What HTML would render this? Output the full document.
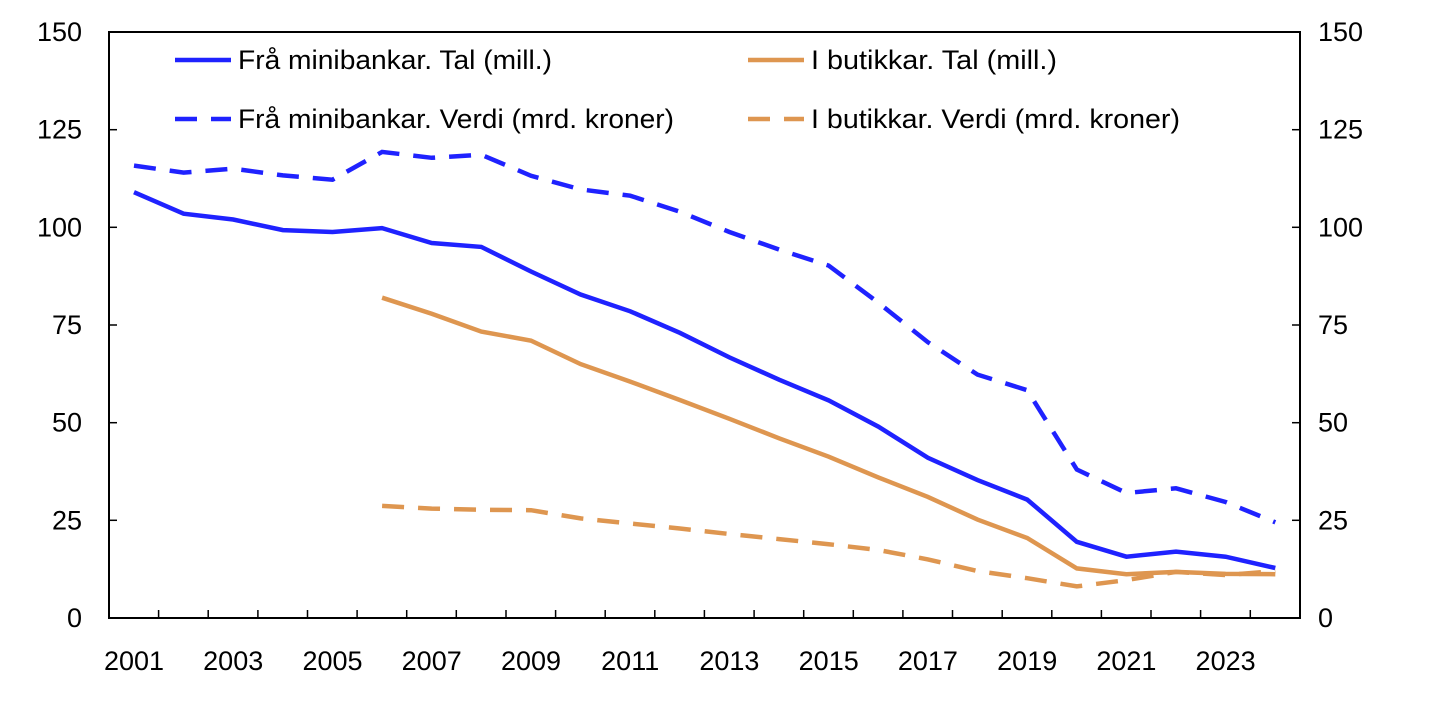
<!DOCTYPE html><html><head><style>body{margin:0;background:#fff}svg text{font-family:"Liberation Sans",sans-serif;font-size:27px;fill:#000}</style></head><body>
<svg width="1445" height="698" xmlns="http://www.w3.org/2000/svg">
<rect x="109" y="32" width="1191" height="586" fill="none" stroke="#000" stroke-width="2"/>
<g stroke="#000" stroke-width="1.5">
<line x1="109" x2="117" y1="520.3" y2="520.3"/><line x1="109" x2="117" y1="422.7" y2="422.7"/><line x1="109" x2="117" y1="325" y2="325"/><line x1="109" x2="117" y1="227.3" y2="227.3"/><line x1="109" x2="117" y1="129.7" y2="129.7"/>
<line x1="1292" x2="1300" y1="520.3" y2="520.3"/><line x1="1292" x2="1300" y1="422.7" y2="422.7"/><line x1="1292" x2="1300" y1="325" y2="325"/><line x1="1292" x2="1300" y1="227.3" y2="227.3"/><line x1="1292" x2="1300" y1="129.7" y2="129.7"/>
<path d="M158.6 610V618M208.2 610V618M257.9 610V618M307.5 610V618M357.1 610V618M406.7 610V618M456.3 610V618M506 610V618M555.6 610V618M605.2 610V618M654.8 610V618M704.4 610V618M754.1 610V618M803.7 610V618M853.3 610V618M902.9 610V618M952.5 610V618M1002.2 610V618M1051.8 610V618M1101.4 610V618M1151 610V618M1200.6 610V618M1250.3 610V618"/>
</g>
<g text-anchor="end">
<text x="82" y="627">0</text><text x="82" y="529.3">25</text><text x="82" y="431.7">50</text><text x="82" y="334">75</text><text x="82" y="236.3">100</text><text x="82" y="138.7">125</text><text x="82" y="41">150</text>
</g>
<g>
<text x="1318" y="627">0</text><text x="1318" y="529.3">25</text><text x="1318" y="431.7">50</text><text x="1318" y="334">75</text><text x="1318" y="236.3">100</text><text x="1318" y="138.7">125</text><text x="1318" y="41">150</text>
</g>
<g text-anchor="middle">
<text x="134" y="670">2001</text><text x="233.2" y="670">2003</text><text x="332.5" y="670">2005</text><text x="431.7" y="670">2007</text><text x="531" y="670">2009</text><text x="630.2" y="670">2011</text><text x="729.4" y="670">2013</text><text x="828.7" y="670">2015</text><text x="927.9" y="670">2017</text><text x="1027.2" y="670">2019</text><text x="1126.4" y="670">2021</text><text x="1225.6" y="670">2023</text>
</g>
<g fill="none" stroke-width="4.5">
<polyline stroke="#1f22ff" points="134,192.2 183.6,213.7 233.2,219.5 282.9,230.1 332.5,232 382.1,228.1 431.7,243 481.3,246.9 531,271.5 580.6,294.5 630.2,311.3 679.8,332.8 729.4,357.4 779.1,379.7 828.7,400.4 878.3,426.6 927.9,457.8 977.5,480.1 1027.2,499.6 1076.8,541.8 1126.4,556.7 1176,551.6 1225.6,556.7 1275.3,568"/>
<polyline stroke="#1f22ff" stroke-dasharray="22,14" points="134,165.6 183.6,172.6 233.2,168.7 282.9,175.4 332.5,179.7 382.1,151.9 431.7,157.8 481.3,154.7 531,175.8 580.6,189.4 630.2,195.7 679.8,211.7 729.4,232 779.1,249.6 828.7,265.6 878.3,302.7 927.9,342.2 977.5,374.6 1027.2,390.2 1076.8,469.5 1126.4,493 1176,488.3 1225.6,502 1275.3,522.3"/>
<polyline stroke="#de9650" points="382.1,297.7 431.7,313.7 481.3,331.6 531,340.6 580.6,364.1 630.2,381.6 679.8,400 729.4,418.8 779.1,438.3 828.7,456.7 878.3,477.4 927.9,496.9 977.5,519.6 1027.2,538 1076.8,568.4 1126.4,574.2 1176,571.9 1225.6,573.9 1275.3,574.2"/>
<polyline stroke="#de9650" stroke-dasharray="22,14" points="382.1,505.9 431.7,508.6 481.3,509.8 531,510.2 580.6,518.4 630.2,523.5 679.8,528.5 729.4,534 779.1,539.1 828.7,544.2 878.3,550 927.9,559.4 977.5,571.1 1027.2,578.2 1076.8,586.4 1126.4,580.1 1176,571.9 1225.6,575 1275.3,571.1"/>
<line x1="175" x2="231" y1="60" y2="60" stroke="#1f22ff"/>
<line x1="748" x2="804" y1="60" y2="60" stroke="#de9650"/>
<line x1="175" x2="231" y1="119" y2="119" stroke="#1f22ff" stroke-dasharray="22,14"/>
<line x1="748" x2="804" y1="119" y2="119" stroke="#de9650" stroke-dasharray="22,14"/>
</g>
<text x="238" y="69" textLength="314" lengthAdjust="spacingAndGlyphs">Frå minibankar. Tal (mill.)</text>
<text x="811" y="69" textLength="246" lengthAdjust="spacingAndGlyphs">I butikkar. Tal (mill.)</text>
<text x="238" y="128" textLength="436" lengthAdjust="spacingAndGlyphs">Frå minibankar. Verdi (mrd. kroner)</text>
<text x="811" y="128" textLength="369" lengthAdjust="spacingAndGlyphs">I butikkar. Verdi (mrd. kroner)</text>
</svg></body></html>
